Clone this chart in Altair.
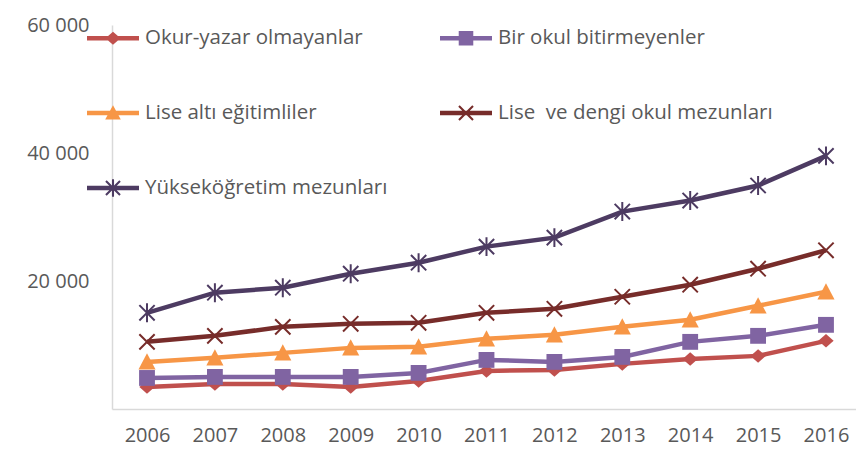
import altair as alt
import pandas as pd

years = [2006, 2007, 2008, 2009, 2010, 2011, 2012, 2013, 2014, 2015, 2016]
series_names = [
    "Okur-yazar olmayanlar",
    "Bir okul bitirmeyenler",
    "Lise altı eğitimliler",
    "Lise\u00a0 ve dengi okul mezunları",
    "Yükseköğretim mezunları",
]
okur_yazar = [3450, 3920, 3920, 3450, 4380, 5950, 6110, 7050, 7830, 8300, 10650]
bir_okul = [4850, 5010, 5010, 5010, 5640, 7670, 7360, 8140, 10490, 11430, 13150]
lise_alti = [7360, 7990, 8770, 9550, 9710, 10960, 11590, 12840, 13940, 16130, 18320]
lise_dengi = [10490, 11430, 12840, 13310, 13470, 15030, 15660, 17540, 19420, 21920, 24800]
yuksek = [15030, 18170, 18950, 21140, 22860, 25370, 26780, 30850, 32570, 34920, 39550]
y_ticks = [20000, 40000, 60000]

colors = ["#C0504D", "#8064A2", "#F79646", "#772C2A", "#4D3B62"]

# chart markers (unit box -1..1)
marker_paths = [
    "M0,-0.75L0.85,0L0,0.75L-0.85,0Z",
    "M-0.88,-0.88H0.88V0.88H-0.88Z",
    "M0,-0.95L0.95,0.85L-0.95,0.85Z",
    "M-0.85,-0.85L0.85,0.85M-0.85,0.85L0.85,-0.85",
    "M-0.85,-0.85L0.85,0.85M-0.85,0.85L0.85,-0.85M0,-1.05V1.05",
]
# legend symbols: line + marker (unit box -1..1)
line_rect = "M-1,-0.085H1V0.085H-1Z"
x_arms = ("M-0.242,-0.298L0.298,0.242L0.242,0.298L-0.298,-0.242Z"
          "M-0.242,0.298L-0.298,0.242L0.242,-0.298L0.298,-0.242Z")
legend_paths = [
    line_rect + "M0,-0.25L0.29,0L0,0.25L-0.29,0Z",
    line_rect + "M-0.28,-0.28H0.28V0.28H-0.28Z",
    line_rect + "M0,-0.3L0.3,0.25L-0.3,0.25Z",
    line_rect + x_arms,
    line_rect + x_arms + "M-0.04,-0.34H0.04V0.34H-0.04Z",
]

values = [okur_yazar, bir_okul, lise_alti, lise_dengi, yuksek]
rows = []
for name, vals in zip(series_names, values):
    for yr, v in zip(years, vals):
        rows.append({"year": yr, "value": v, "series": name})
df = pd.DataFrame(rows)

FONT = "Open Sans"
TXT = "#595959"
AXC = "#D9D9D9"

x_enc = alt.X(
    "year:Q",
    scale=alt.Scale(domain=[2005.4845, 2016.442], nice=False, zero=False),
    axis=alt.Axis(
        values=years, format="d", title=None, grid=False, ticks=False, tickSize=0,
        domainColor=AXC, domainWidth=1.5, labelFont=FONT, labelFontSize=20,
        labelColor=TXT, labelPadding=16,
    ),
)
y_enc = alt.Y(
    "value:Q",
    scale=alt.Scale(domain=[0, 60000], nice=False),
    axis=alt.Axis(
        values=y_ticks, title=None, grid=False, ticks=False, tickSize=0,
        domainColor=AXC, domainWidth=1.5, labelFont=FONT, labelFontSize=20,
        labelColor=TXT, labelPadding=23,
        labelExpr="replace(format(datum.value, ','), ',', ' ')",
    ),
)

def cscale():
    return alt.Scale(domain=series_names, range=colors)

lines = alt.Chart(df).mark_line(strokeWidth=4.5).encode(
    x=x_enc, y=y_enc,
    color=alt.Color("series:N", scale=cscale(), legend=None),
)

filled_names = series_names[:3]
stroked_names = series_names[3:]

pts_filled = alt.Chart(df).transform_filter(
    alt.FieldOneOfPredicate(field="series", oneOf=filled_names)
).mark_point(filled=True, size=324, opacity=1, strokeWidth=0).encode(
    x=x_enc, y=y_enc,
    color=alt.Color("series:N", scale=cscale(), legend=None),
    shape=alt.Shape("series:N", scale=alt.Scale(domain=series_names, range=marker_paths), legend=None),
)

pts_stroked = alt.Chart(df).transform_filter(
    alt.FieldOneOfPredicate(field="series", oneOf=stroked_names)
).mark_point(filled=False, size=324, opacity=1, strokeWidth=2).encode(
    x=x_enc, y=y_enc,
    color=alt.Color("series:N", scale=cscale(), legend=None),
    shape=alt.Shape("series:N", scale=alt.Scale(domain=series_names, range=marker_paths), legend=None),
)

legend = alt.Legend(
    orient="none", legendX=-25, legendY=-13, direction="horizontal", columns=2,
    title=None, symbolSize=2704, labelOffset=6, rowPadding=38, columnPadding=52,
    symbolStrokeWidth=0, padding=0, labelFont=FONT, labelFontSize=20.5,
    labelColor=TXT, labelLimit=500, symbolOpacity=1,
)

legend_layer = alt.Chart(df).transform_filter("false").mark_point(
    filled=True, size=2704, opacity=1, strokeWidth=0
).encode(
    x=x_enc, y=y_enc,
    color=alt.Color("series:N", scale=cscale(), legend=legend),
    shape=alt.Shape("series:N", scale=alt.Scale(domain=series_names, range=legend_paths), legend=legend),
)

chart = alt.layer(lines, pts_filled, pts_stroked, legend_layer).resolve_scale(
    color="independent", shape="independent"
).properties(
    width=744, height=384,
    autosize=alt.AutoSizeParams(type="none"),
    padding={"left": 104, "top": 17, "right": 0, "bottom": 40},
    background="white",
).configure_view(stroke=None)

chart.save("out.html", embed_options={"renderer": "svg", "actions": False})
